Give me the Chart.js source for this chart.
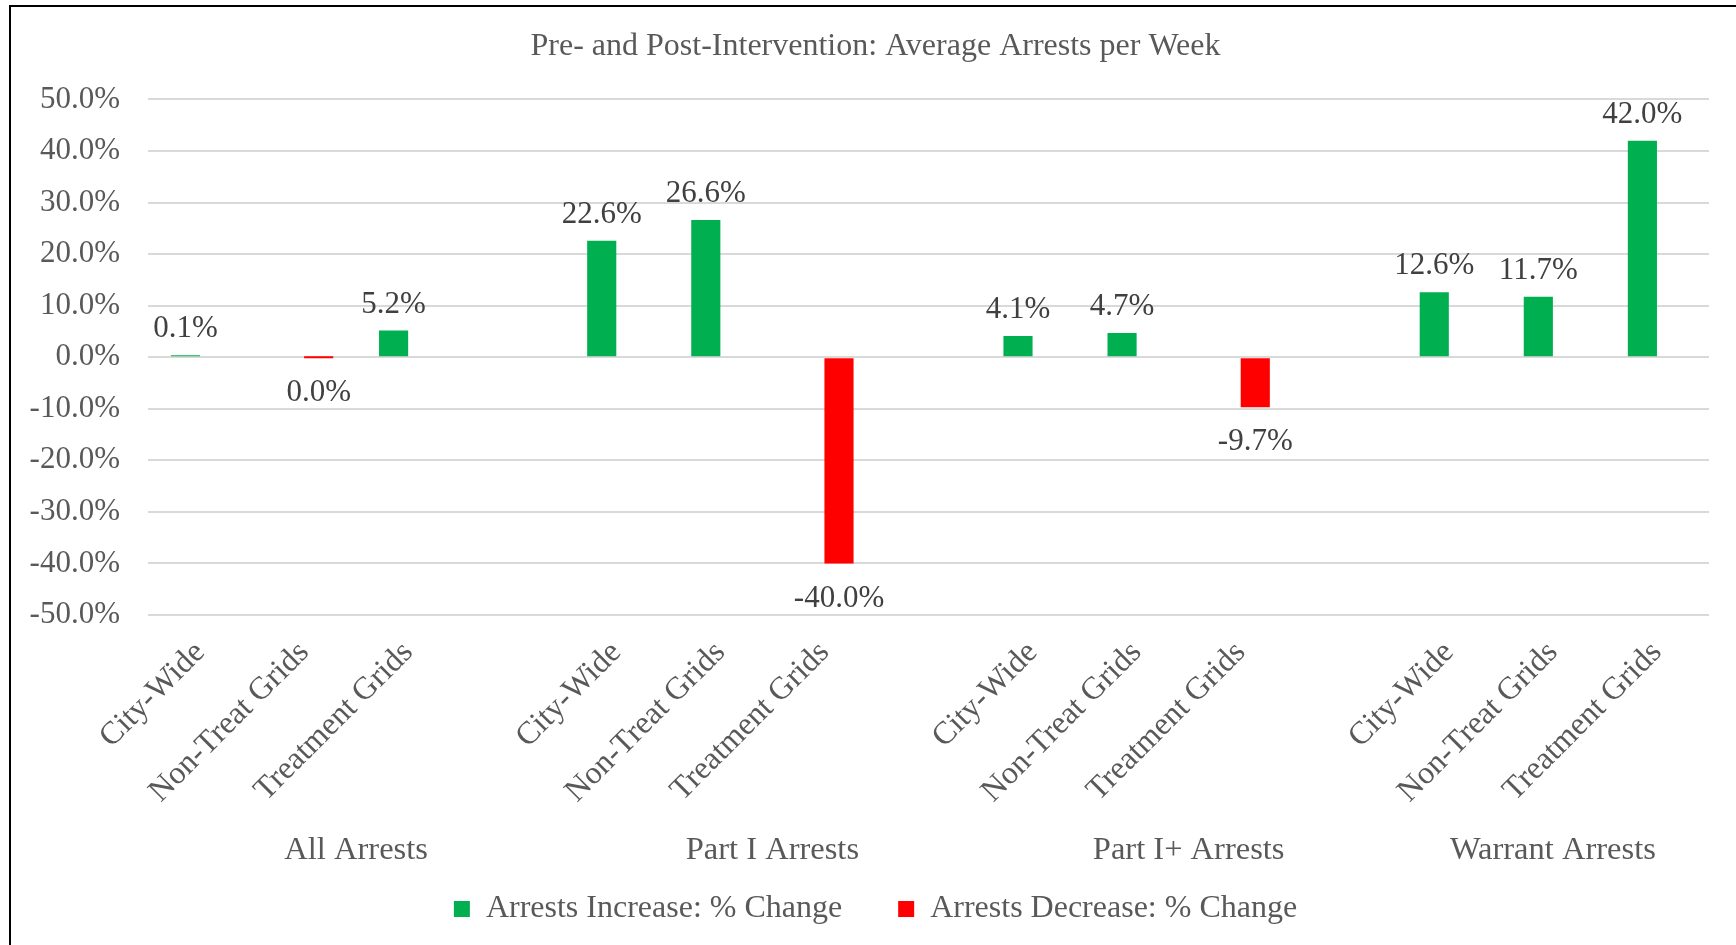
<!DOCTYPE html>
<html>
<head>
<meta charset="utf-8">
<title>Pre- and Post-Intervention: Average Arrests per Week</title>
<script src="https://cdn.jsdelivr.net/npm/chart.js@4.4.1/dist/chart.umd.min.js"></script>
<style>
  html, body { margin:0; padding:0; background:#fff; }
  #frame { position:absolute; left:9px; top:5px; width:1727px; height:940px;
           border-left:2px solid #000; border-top:2px solid #000; }
  #wrap { position:absolute; left:2px; top:2px; width:1725px; height:938px; }
</style>
</head>
<body>
<div id="frame"><div id="wrap"><canvas id="chart"></canvas></div></div>
<script>
// categories (blank entries keep the gap between the groups, like the sheet)
const categories = [
  'City-Wide','Non-Treat Grids','Treatment Grids','',
  'City-Wide','Non-Treat Grids','Treatment Grids','',
  'City-Wide','Non-Treat Grids','Treatment Grids','',
  'City-Wide','Non-Treat Grids','Treatment Grids'
];
const groups = ['All Arrests','Part I Arrests','Part I+ Arrests','Warrant Arrests'];
const groupCenters = [1.5, 5.5, 9.5, 13];

// % change values
const increaseValues = [0.1, null, 5.2, null, 22.6, 26.6, null, null, 4.1, 4.7, null, null, 12.6, 11.7, 42.0];
const decreaseValues = [null, 0.0, null, null, null, null, -40.0, null, null, null, -9.7, null, null, null, null];

const yTicks = [-50,-40,-30,-20,-10,0,10,20,30,40,50];

const SERIF = "'Liberation Serif', 'Times New Roman', serif";
const GREY = '#595959';

// simple value labels, outside end of each bar
const barLabels = {
  id: 'barLabels',
  afterDatasetsDraw(chart) {
    const ctx = chart.ctx;
    ctx.save();
    ctx.font = '31px ' + SERIF;
    ctx.fillStyle = '#404040';
    ctx.textAlign = 'center';
    ctx.textBaseline = 'middle';
    chart.data.datasets.forEach((ds, di) => {
      const meta = chart.getDatasetMeta(di);
      meta.data.forEach((bar, i) => {
        const v = ds.data[i];
        if (v === null || v === undefined) return;
        const up = di === 0;
        const y = up ? bar.y - 26 : Math.max(bar.y, bar.base) + 35;
        ctx.fillText(v.toFixed(1) + '%', bar.x, y);
      });
    });
    ctx.restore();
  }
};

new Chart(document.getElementById('chart').getContext('2d'), {
  type: 'bar',
  data: {
    labels: categories,
    datasets: [
      { label: 'Arrests Increase: % Change', data: increaseValues, backgroundColor: '#00B050', minBarLength: 2 },
      { label: 'Arrests Decrease: % Change', data: decreaseValues, backgroundColor: '#FF0000', minBarLength: 2 }
    ]
  },
  options: {
    responsive: true,
    maintainAspectRatio: false,
    animation: false,
    datasets: { bar: { categoryPercentage: 0.56, barPercentage: 1.0 } },
    layout: { padding: { left: 0, right: 0, top: 0, bottom: 12 } },
    plugins: {
      title: {
        display: true,
        text: 'Pre- and Post-Intervention: Average Arrests per Week',
        color: GREY,
        font: { family: SERIF, size: 32, weight: 'normal' },
        padding: { top: 18, bottom: 34 }
      },
      legend: {
        position: 'bottom',
        labels: {
          color: GREY,
          font: { family: SERIF, size: 32 },
          boxWidth: 16, boxHeight: 16,
          padding: 56
        }
      },
      tooltip: { enabled: false }
    },
    scales: {
      y: {
        min: -50, max: 50,
        afterBuildTicks: axis => { axis.ticks = yTicks.map(v => ({ value: v })); },
        afterFit: axis => { axis.width = 135; },
        ticks: {
          color: GREY,
          font: { family: SERIF, size: 31 },
          padding: 28,
          callback: v => v.toFixed(1) + '%'
        },
        grid: { color: '#D9D9D9', lineWidth: 2, drawTicks: false },
        border: { display: false }
      },
      // empty strip on the right so the plot ends where the sheet's does
      yRight: {
        type: 'linear',
        position: 'right',
        min: 0, max: 1,
        afterFit: axis => { axis.width = 29; },
        ticks: { display: false },
        grid: { display: false, drawTicks: false },
        border: { display: false }
      },
      x: {
        afterFit: axis => { axis.paddingLeft = 0; axis.paddingRight = 0; axis.height = 216; },
        ticks: {
          color: GREY,
          font: { family: SERIF, size: 32 },
          minRotation: 45, maxRotation: 45,
          autoSkip: false,
          padding: 19
        },
        grid: { display: false, drawTicks: false },
        border: { display: false }
      },
      // second row of the category axis: group names
      group: {
        type: 'linear',
        position: 'bottom',
        offset: false,
        min: -0.5, max: 14.5,
        afterBuildTicks: axis => { axis.ticks = groupCenters.map(v => ({ value: v })); },
        afterFit: axis => {
          axis.paddingLeft = 0; axis.paddingRight = 0; axis.height = 6;
          axis._computeLabelArea = () => null; // let the names spill past the thin strip
        },
        ticks: {
          color: GREY,
          font: { family: SERIF, size: 32.5 },
          autoSkip: false, maxRotation: 0,
          padding: 0,
          callback: (v, i) => groups[i]
        },
        grid: { display: false, drawTicks: false, offset: false },
        border: { display: false }
      }
    }
  },
  plugins: [barLabels]
});
</script>
</body>
</html>
